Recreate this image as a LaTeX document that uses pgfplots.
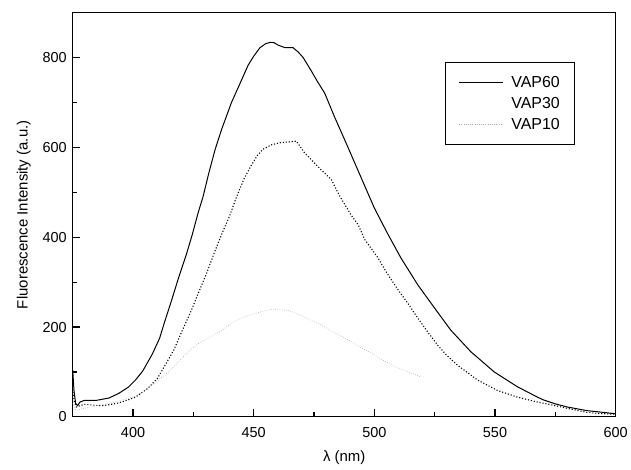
\documentclass[border=0pt]{standalone}
\usepackage{fontspec}
\setmainfont{Liberation Sans}
\usepackage{pgfplots}
\pgfplotsset{compat=1.18}
\begin{document}
\begin{tikzpicture}
\begin{axis}[
  name=ax,
  scale only axis, width=545pt, height=405.8pt,
  xmin=375, xmax=600, ymin=0, ymax=900,
  xtick={400,450,500,550,600}, minor xtick={425,475,525,575},
  ytick={0,200,400,600,800}, minor ytick={100,300,500,700},
  tick align=inside, xtick pos=left, ytick pos=left,
  major tick length=7.5pt, minor tick length=4.5pt,
  axis line style={line width=1.1pt},
  every tick/.style={black, line width=1.2pt},
  /pgf/number format/assume math mode=true,
  tick label style={font=\fontsize{14.5}{16}\selectfont},
  label style={font=\fontsize{15}{17}\selectfont},
  xticklabel style={yshift=-7.5pt},
  yticklabel style={xshift=-2.5pt},
  xlabel={λ (nm)}, ylabel={Fluorescence Intensity (a.u.)},
  xlabel style={at={(axis description cs:0.5,-0.1)}, anchor=center},
  ylabel style={at={(axis description cs:-0.09,0.5)}, anchor=center},
  legend style={at={(0.686,0.879)}, anchor=north west, draw=black, line width=1.2pt,
    font=\fontsize{16}{18}\selectfont, inner xsep=13pt, inner ysep=12pt, row sep=4.5pt},
  legend cell align=left,
  legend image code/.code={\draw[#1] (0pt,0pt) -- (44pt,0pt); \path (50pt,0pt);},
]
\addlegendimage{black, line width=0.9pt}
\addlegendentry{VAP60}
\addlegendimage{draw=white, draw opacity=0, line width=0pt}
\addlegendentry{VAP30}
\addlegendimage{gray!70, line width=0.6pt, dash pattern=on 0.6pt off 1.6pt}
\addlegendentry{VAP10}

% VAP60
\addplot[forget plot, black, line width=1pt] coordinates {
(375,105) (375.5,60) (376.2,30) (377,25) (378,33) (380,37) (385,37) (390,42)
(394,52) (398,66) (401,82) (404,102) (408,140) (411,175) (413,210) (416,260)
(419,312) (422,360) (424.5,405) (427,455) (429,490) (431.5,545) (434,595)
(436.7,640) (440.8,700) (444.3,742) (447.7,783) (450,803) (452.6,822) (455,831)
(457,834) (458.5,833) (460,828) (463,822) (466.3,822) (468.5,812) (470.5,800)
(473.9,770) (476.5,746) (479.4,721) (483.5,668) (489,601) (494.5,533) (500,465)
(505.6,407) (511,354) (518,294) (525,242) (531.7,193) (540,145) (549.7,100)
(559.3,67) (567.6,44) (570,38) (575,29) (580,22) (588,14) (595,10) (600,7)
};
% VAP30
\addplot[forget plot, black, line width=1.1pt, dash pattern=on 1.1pt off 1.9pt] coordinates {
(375,62) (375.6,35) (376.5,22) (378,25) (380,28) (384,26) (387,25) (390,27)
(394,31) (398,38) (401,44) (406,63) (410,85) (413.3,115) (417,150) (420.2,190)
(424,235) (427.1,276) (430.5,320) (434,370) (437,410) (440,447) (442.9,490)
(446,530) (449,560) (451.5,582) (453.9,596) (457.5,606) (461.5,611) (464.5,612)
(467.7,614) (469.5,600) (471.2,587) (476.7,557) (482.2,528) (485.6,492)
(490.4,449) (493.2,429) (496,395) (501.4,355) (505,322) (509.7,284) (514,252)
(518,220) (522,190) (526.2,160) (530,137) (534.5,115) (542.8,82) (551,59)
(559.3,44) (567.6,33) (575,25) (580,19) (588,10) (595,7) (600,6)
};
% VAP10
\addplot[forget plot, gray!70, line width=0.6pt, dash pattern=on 0.6pt off 1.6pt] coordinates {
(375,30) (375.5,22) (376.5,14) (378,17) (382,22) (387,27) (392,32) (396,38)
(401,46) (404,55) (407.8,70) (411,84) (414.7,100) (418,118) (421.6,138)
(425,155) (428.4,168) (432,178) (436.7,192) (440.8,209) (445,220) (449,228)
(453,234) (457,239) (460,240) (464,237) (466,234) (470,225) (476.7,208)
(482,192) (488.4,174) (494,156) (500,138) (504,125) (508.3,112) (514,100)
(519.3,89)
};
\end{axis}
\path (ax.south west) ++(-73pt,-52.5pt);
\path (ax.north east) ++(13pt,12.7pt);
\end{tikzpicture}
\end{document}
